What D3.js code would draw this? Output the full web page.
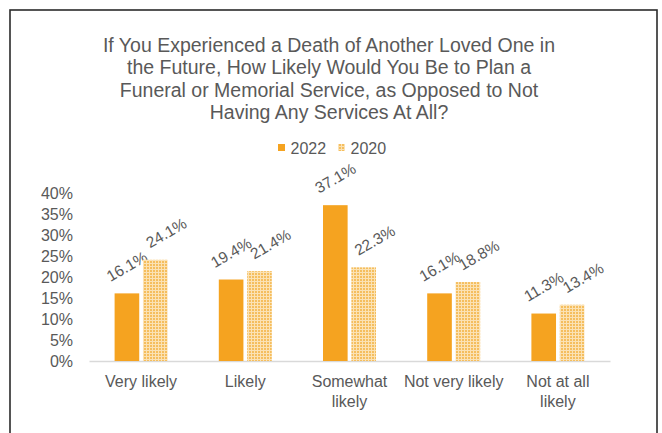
<!DOCTYPE html>
<html>
<head>
<meta charset="utf-8">
<script src="https://cdn.jsdelivr.net/npm/d3@7/dist/d3.min.js"></script>
<style>
  html, body { margin: 0; padding: 0; background: #fff; }
  svg { display: block; }
  text { font-family: "Liberation Sans", Arial, sans-serif; fill: #595959; }
</style>
</head>
<body>
<svg id="chart" width="662" height="433"></svg>
<script>
const titleLines = [
  "If You Experienced a Death of Another Loved One in",
  "the Future, How Likely Would You Be to Plan a",
  "Funeral or Memorial Service, as Opposed to Not",
  "Having Any Services At All?"
];
const categories = [
  ["Very likely"],
  ["Likely"],
  ["Somewhat", "likely"],
  ["Not very likely"],
  ["Not at all", "likely"]
];
const seriesNames = ["2022", "2020"];
const values2022 = [16.1, 19.4, 37.1, 16.1, 11.3];
const values2020 = [24.1, 21.4, 22.3, 18.8, 13.4];
const yTicks = [0, 5, 10, 15, 20, 25, 30, 35, 40];

const svg = d3.select("#chart");
const orange = "#F5A320";

// pattern for 2020
const defs = svg.append("defs");
const pat = defs.append("pattern")
  .attr("id", "dots").attr("patternUnits", "userSpaceOnUse")
  .attr("width", 3).attr("height", 3);
pat.append("rect").attr("width", 3).attr("height", 3).attr("fill", "#FBE2B4");
pat.append("rect").attr("width", 2).attr("height", 2).attr("fill", "#F5BE5E");

// frame
svg.append("rect").attr("x", 10).attr("y", 10).attr("width", 647).attr("height", 440)
  .attr("fill", "none").attr("stroke", "#2b2b2b").attr("stroke-width", 1.6);

// title
svg.append("g").selectAll("text").data(titleLines).join("text")
  .attr("x", 329).attr("y", (d, i) => 51.5 + i * 22.5)
  .attr("text-anchor", "middle").attr("font-size", 19.5).text(d => d);

// scales
const x0 = d3.scaleBand().domain(categories.map((c, i) => i)).range([89, 610]).paddingInner(0).paddingOuter(0);
const y = d3.scaleLinear().domain([0, 40]).range([361, 193]);
const barW = 23, gap = 7;
const groupW = barW * 2 + gap;
const x1 = d3.scaleBand().domain(seriesNames).range([0, groupW]).paddingInner(gap / groupW);

// y axis
const yAxis = d3.axisLeft(y).tickValues(yTicks).tickFormat(d => d + "%").tickSize(0).tickPadding(0);
const gy = svg.append("g").attr("transform", "translate(73,0)").call(yAxis);
gy.select(".domain").remove();
gy.selectAll("text").attr("font-size", 16).attr("fill", "#595959")
  .style("font-family", '"Liberation Sans", Arial, sans-serif').attr("dy", "0.35em");

// x axis line
const xAxis = d3.axisBottom(x0).tickSize(0).tickFormat("");
const gx = svg.append("g").attr("transform", "translate(0,361)").call(xAxis);
gx.select(".domain").attr("stroke", "#D9D9D9").attr("stroke-width", 1.5);

// x labels
const xl = svg.append("g");
categories.forEach((lines, i) => {
  const cx = x0(i) + x0.bandwidth() / 2;
  lines.forEach((ln, j) => {
    xl.append("text").attr("x", cx).attr("y", 387 + j * 20)
      .attr("text-anchor", "middle").attr("font-size", 16).text(ln);
  });
});

// bars
const data = seriesNames.map((s, si) => ({
  name: s,
  values: si === 0 ? values2022 : values2020,
  fill: si === 0 ? orange : "url(#dots)",
  dx: si === 0 ? 0 : 11
}));
const off = (x0.bandwidth() - groupW) / 2;
data.forEach(s => {
  const g = svg.append("g");
  g.selectAll("rect").data(s.values).join("rect")
    .attr("x", (d, i) => x0(i) + off + x1(s.name))
    .attr("y", d => y(d))
    .attr("width", x1.bandwidth())
    .attr("height", d => y(0) - y(d))
    .attr("fill", s.fill);
  g.selectAll("text").data(s.values).join("text")
    .attr("transform", (d, i) => {
      const cx = x0(i) + off + x1(s.name) + x1.bandwidth() / 2 + s.dx;
      const cy = y(d) - 27;
      return `translate(${cx},${cy}) rotate(-30)`;
    })
    .attr("text-anchor", "middle").attr("dy", "0.35em")
    .attr("font-size", 15.5).text(d => d.toFixed(1) + "%");
});

// legend
const lg = svg.append("g");
const legendItems = [
  { name: "2022", fill: orange, x: 278 },
  { name: "2020", fill: "url(#dots)", x: 338 }
];
legendItems.forEach(it => {
  lg.append("rect").attr("x", it.x).attr("y", 144).attr("width", 7).attr("height", 7).attr("fill", it.fill);
  lg.append("text").attr("x", it.x + 12.5).attr("y", 153.5).attr("font-size", 16).text(it.name);
});
</script>
</body>
</html>
